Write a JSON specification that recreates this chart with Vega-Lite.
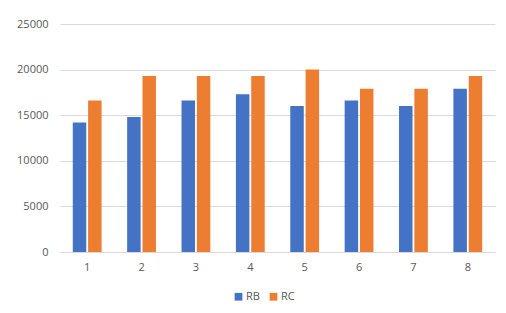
{
  "$schema": "https://vega.github.io/schema/vega-lite/v6.json",
  "autosize": {"type": "none"},
  "width": 435,
  "height": 228,
  "padding": {"left": 60, "top": 24, "right": 11, "bottom": 61},
  "background": "white",
  "data": {"values": [
    {"g": "1", "s": "RB", "v": 14200}, {"g": "1", "s": "RC", "v": 16600},
    {"g": "2", "s": "RB", "v": 14800}, {"g": "2", "s": "RC", "v": 19300},
    {"g": "3", "s": "RB", "v": 16600}, {"g": "3", "s": "RC", "v": 19300},
    {"g": "4", "s": "RB", "v": 17300}, {"g": "4", "s": "RC", "v": 19300},
    {"g": "5", "s": "RB", "v": 16000}, {"g": "5", "s": "RC", "v": 20000},
    {"g": "6", "s": "RB", "v": 16600}, {"g": "6", "s": "RC", "v": 17900},
    {"g": "7", "s": "RB", "v": 16000}, {"g": "7", "s": "RC", "v": 17900},
    {"g": "8", "s": "RB", "v": 17900}, {"g": "8", "s": "RC", "v": 19300}
  ]},
  "mark": {"type": "bar"},
  "encoding": {
    "x": {"field": "g", "type": "nominal", "title": null,
      "scale": {"paddingInner": 0.47, "paddingOuter": 0.235},
      "axis": {"labelAngle": 0, "ticks": false, "domainColor": "#d9d9d9", "domainWidth": 1, "labelPadding": 9, "grid": false}},
    "xOffset": {"field": "s", "type": "nominal", "scale": {"paddingInner": 0.12}},
    "y": {"field": "v", "type": "quantitative", "title": null,
      "scale": {"domain": [0, 25000], "nice": false},
      "axis": {"values": [0, 5000, 10000, 15000, 20000, 25000], "format": "d", "domain": false, "ticks": false, "labelPadding": 12, "gridColor": "#d9d9d9"}},
    "color": {"field": "s", "type": "nominal", "title": null,
      "scale": {"domain": ["RB", "RC"], "range": ["#4472C4", "#ED7D31"]},
      "legend": {"orient": "none", "legendX": 173, "legendY": 267, "direction": "horizontal", "symbolType": "square", "symbolSize": 60, "columnPadding": 8, "labelOffset": 2}}
  },
  "config": {
    "view": {"stroke": null},
    "font": "Open Sans",
    "axis": {"labelFont": "Open Sans", "labelFontSize": 11, "labelColor": "#595959"},
    "legend": {"labelFont": "Open Sans", "labelFontSize": 11, "labelColor": "#595959"}
  }
}
